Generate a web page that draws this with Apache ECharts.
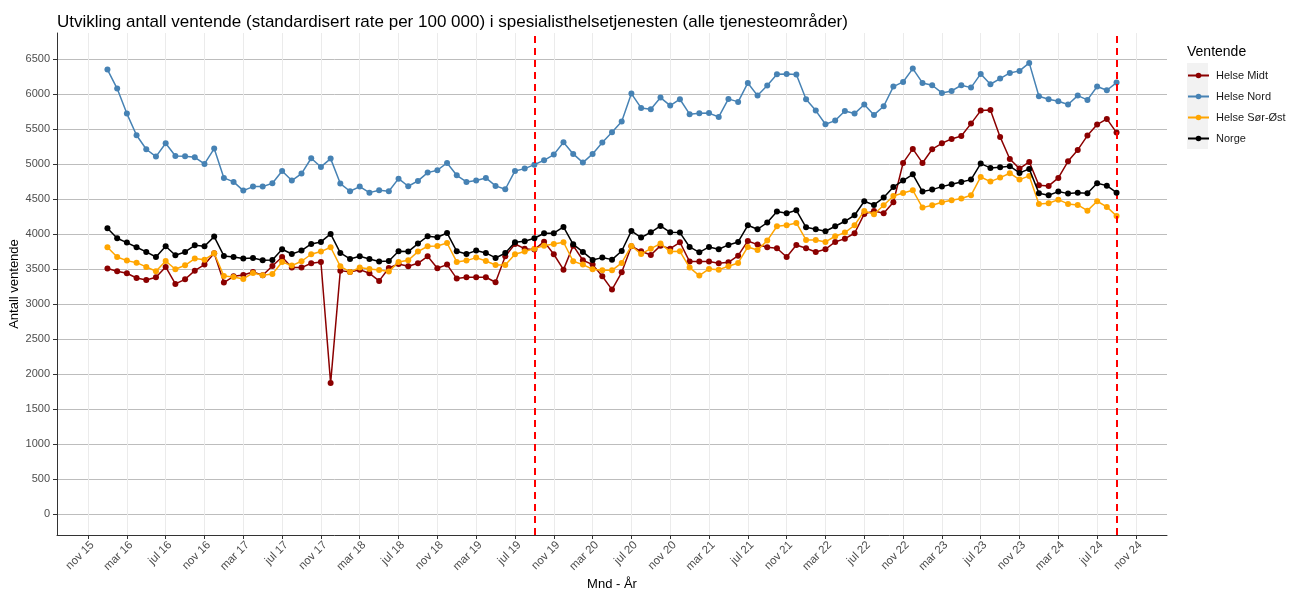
<!DOCTYPE html>
<html>
<head>
<meta charset="utf-8">
<script src="https://cdn.jsdelivr.net/npm/echarts@6/dist/echarts.min.js"></script>
<style>html,body{margin:0;padding:0;background:#fff}#c{width:1290px;height:592px}</style>
</head>
<body>
<div id="c"></div>
<script>
// Months: Jan 2016 .. Sep 2024 (x value = months since Nov 2015)
const startYear = 2016, startMonth = 1, nMonths = 105;
const monthNames = ['jan','feb','mar','apr','mai','jun','jul','aug','sep','okt','nov','des'];
const months = [];
for (let i = 0; i < nMonths; i++) {
  const mm = (startMonth - 1 + i) % 12, yy = startYear + Math.floor((startMonth - 1 + i) / 12);
  months.push({ label: monthNames[mm] + ' ' + yy, x: i + 2 });
}

const helseMidt = [3505,3467,3438,3371,3343,3381,3529,3286,3352,3476,3562,3724,3305,3395,3414,3457,3410,3543,3671,3519,3519,
  3581,3600,1870,3476,3457,3490,3438,3329,3514,3571,3538,3581,3681,3510,3562,3362,3381,3381,3381,3310,3681,
  3857,3790,3776,3890,3710,3490,3833,3624,3562,3395,3205,3452,3824,3752,3700,3833,3790,3881,3605,3605,3605,
  3581,3595,3690,3900,3848,3810,3795,3671,3843,3795,3743,3781,3886,3933,4010,4286,4329,4295,4452,5014,5214,
  5014,5210,5295,5357,5400,5576,5762,5771,5386,5071,4933,5029,4695,4686,4800,5038,5200,5405,5562,5643,5448];
const helseNord = [6348,6076,5719,5410,5210,5105,5295,5114,5110,5095,5000,5219,4800,4743,4619,4676,4676,4724,4900,4762,4862,
  5081,4957,5076,4719,4610,4676,4590,4624,4610,4790,4681,4757,4876,4910,5014,4838,4743,4762,4800,4686,4638,
  4900,4933,4990,5052,5133,5310,5143,5019,5143,5305,5452,5605,6005,5800,5781,5948,5833,5924,5710,5724,5726,
  5671,5929,5886,6157,5976,6119,6281,6286,6276,5924,5762,5567,5619,5757,5719,5848,5700,5824,6105,6171,6362,
  6157,6124,6014,6043,6124,6090,6286,6138,6219,6300,6329,6443,5967,5924,5895,5848,5976,5914,6105,6052,6162];
const helseSorOst = [3810,3671,3619,3590,3529,3467,3614,3495,3552,3648,3633,3724,3400,3386,3357,3443,3410,3429,3600,3548,3610,
  3710,3748,3810,3538,3457,3519,3500,3486,3462,3600,3624,3748,3824,3829,3871,3600,3619,3662,3614,3557,3557,
  3710,3748,3790,3833,3857,3881,3610,3562,3495,3481,3481,3586,3829,3714,3790,3862,3748,3752,3519,3405,3500,
  3490,3538,3586,3814,3771,3905,4110,4124,4157,3914,3914,3886,3967,4019,4124,4329,4281,4410,4543,4586,4624,
  4376,4410,4452,4481,4505,4552,4814,4748,4805,4867,4776,4829,4429,4438,4490,4429,4414,4333,4467,4386,4257];
const norge = [4081,3938,3876,3810,3743,3671,3824,3695,3743,3838,3824,3962,3686,3671,3648,3657,3624,3629,3781,3714,3762,
  3857,3886,4000,3729,3643,3681,3643,3605,3614,3752,3748,3862,3967,3952,4014,3752,3714,3762,3729,3657,3726,
  3881,3895,3938,4010,4010,4100,3852,3743,3629,3662,3633,3757,4043,3948,4024,4114,4024,4019,3814,3738,3814,
  3781,3843,3886,4124,4067,4162,4319,4295,4338,4095,4067,4038,4110,4181,4267,4467,4414,4519,4671,4762,4852,
  4605,4633,4676,4710,4743,4776,5005,4943,4952,4967,4871,4929,4581,4552,4605,4576,4590,4581,4724,4690,4590];

const seriesNames = ['Helse Midt','Helse Nord','Helse Sør-Øst','Norge'];
const seriesColors = ['#8B0000','#4682B4','#FFA500','#000000'];
const seriesValues = [helseMidt, helseNord, helseSorOst, norge];

const xTickValues = [0,4,8,12,16,20,24,28,32,36,40,44,48,52,56,60,64,68,72,76,80,84,88,92,96,100,104,108];
const xTickLabels = ['nov 15','mar 16','jul 16','nov 16','mar 17','jul 17','nov 17','mar 18','jul 18','nov 18',
  'mar 19','jul 19','nov 19','mar 20','jul 20','nov 20','mar 21','jul 21','nov 21','mar 22','jul 22','nov 22',
  'mar 23','jul 23','nov 23','mar 24','jul 24','nov 24'];
const yTickValues = [0,500,1000,1500,2000,2500,3000,3500,4000,4500,5000,5500,6000,6500];
const markerMonths = [46, 106]; // sep 19, sep 24

const FONT = 'Liberation Sans, Arial, sans-serif';
const chart = echarts.init(document.getElementById('c'), null, { renderer: 'canvas' });

const series = seriesNames.map((name, k) => ({
  name,
  type: 'line',
  data: seriesValues[k].map((v, i) => [months[i].x, v]),
  symbol: 'circle',
  symbolSize: 6,
  showSymbol: true,
  lineStyle: { width: 1.5, color: seriesColors[k] },
  itemStyle: { color: seriesColors[k] },
  emphasis: { disabled: true },
  z: 2 + k,
  markLine: k === 3 ? {
    silent: true,
    symbol: 'none',
    label: { show: false },
    lineStyle: { color: '#FF0000', type: [7, 5], width: 2 },
    data: markerMonths.map(m => ({ xAxis: m }))
  } : undefined
}));

chart.setOption({
  animation: false,
  backgroundColor: '#ffffff',
  textStyle: { fontFamily: FONT },
  title: [
    { text: 'Utvikling antall ventende (standardisert rate per 100 000) i spesialisthelsetjenesten (alle tjenesteområder)',
      left: 57, top: 14, padding: 0,
      textStyle: { fontFamily: FONT, fontSize: 17, fontWeight: 'normal', color: '#000' } },
    { text: 'Ventende', left: 1187, top: 45, padding: 0,
      textStyle: { fontFamily: FONT, fontSize: 14, fontWeight: 'normal', color: '#000' } }
  ],
  graphic: [
    { type: 'rect', left: 1187, top: 63, shape: { width: 21, height: 86 }, style: { fill: '#f2f2f2' }, z: 0 }
  ],
  legend: {
    orient: 'vertical', left: 1187, top: 69, padding: 0,
    itemWidth: 21, itemHeight: 7, itemGap: 8,
    data: seriesNames,
    textStyle: { fontFamily: FONT, fontSize: 11, color: '#1a1a1a', padding: [0, 0, 0, 2], lineHeight: 13 }
  },
  grid: { left: 57, right: 123, top: 33, bottom: 57, containLabel: false, outerBoundsMode: 'none' },
  xAxis: {
    type: 'value', min: -3.2, max: 111.2,
    name: 'Mnd - År', nameLocation: 'middle', nameGap: 43, nameMoveOverlap: false,
    nameTextStyle: { fontFamily: FONT, fontSize: 13, color: '#000' },
    axisLine: { show: true, onZero: false, lineStyle: { color: '#333', width: 1 } },
    axisTick: { show: true, length: 4, customValues: xTickValues, lineStyle: { color: '#333' } },
    axisLabel: { customValues: xTickValues, rotate: 45, fontSize: 11.5, color: '#4d4d4d', margin: 4,
      verticalAlign: 'top',
      formatter: v => { const i = xTickValues.indexOf(Math.round(v)); return i >= 0 ? xTickLabels[i] : ''; } },
    splitLine: { show: true, lineStyle: { color: '#ebebeb', width: 1 } }
  },
  yAxis: {
    type: 'value', min: -300, max: 6870,
    name: 'Antall ventende', nameLocation: 'middle', nameGap: 36, nameRotate: 90, nameMoveOverlap: false,
    nameTextStyle: { fontFamily: FONT, fontSize: 13, color: '#000' },
    axisLine: { show: true, onZero: false, lineStyle: { color: '#333', width: 1 } },
    axisTick: { show: true, length: 4, customValues: yTickValues, lineStyle: { color: '#333' } },
    axisLabel: { customValues: yTickValues, fontSize: 11, color: '#4d4d4d', margin: 7,
      formatter: v => String(Math.round(v)) },
    splitLine: { show: true, lineStyle: { color: '#bdbdbd', width: 1 } }
  },
  series
});
</script>
</body>
</html>
